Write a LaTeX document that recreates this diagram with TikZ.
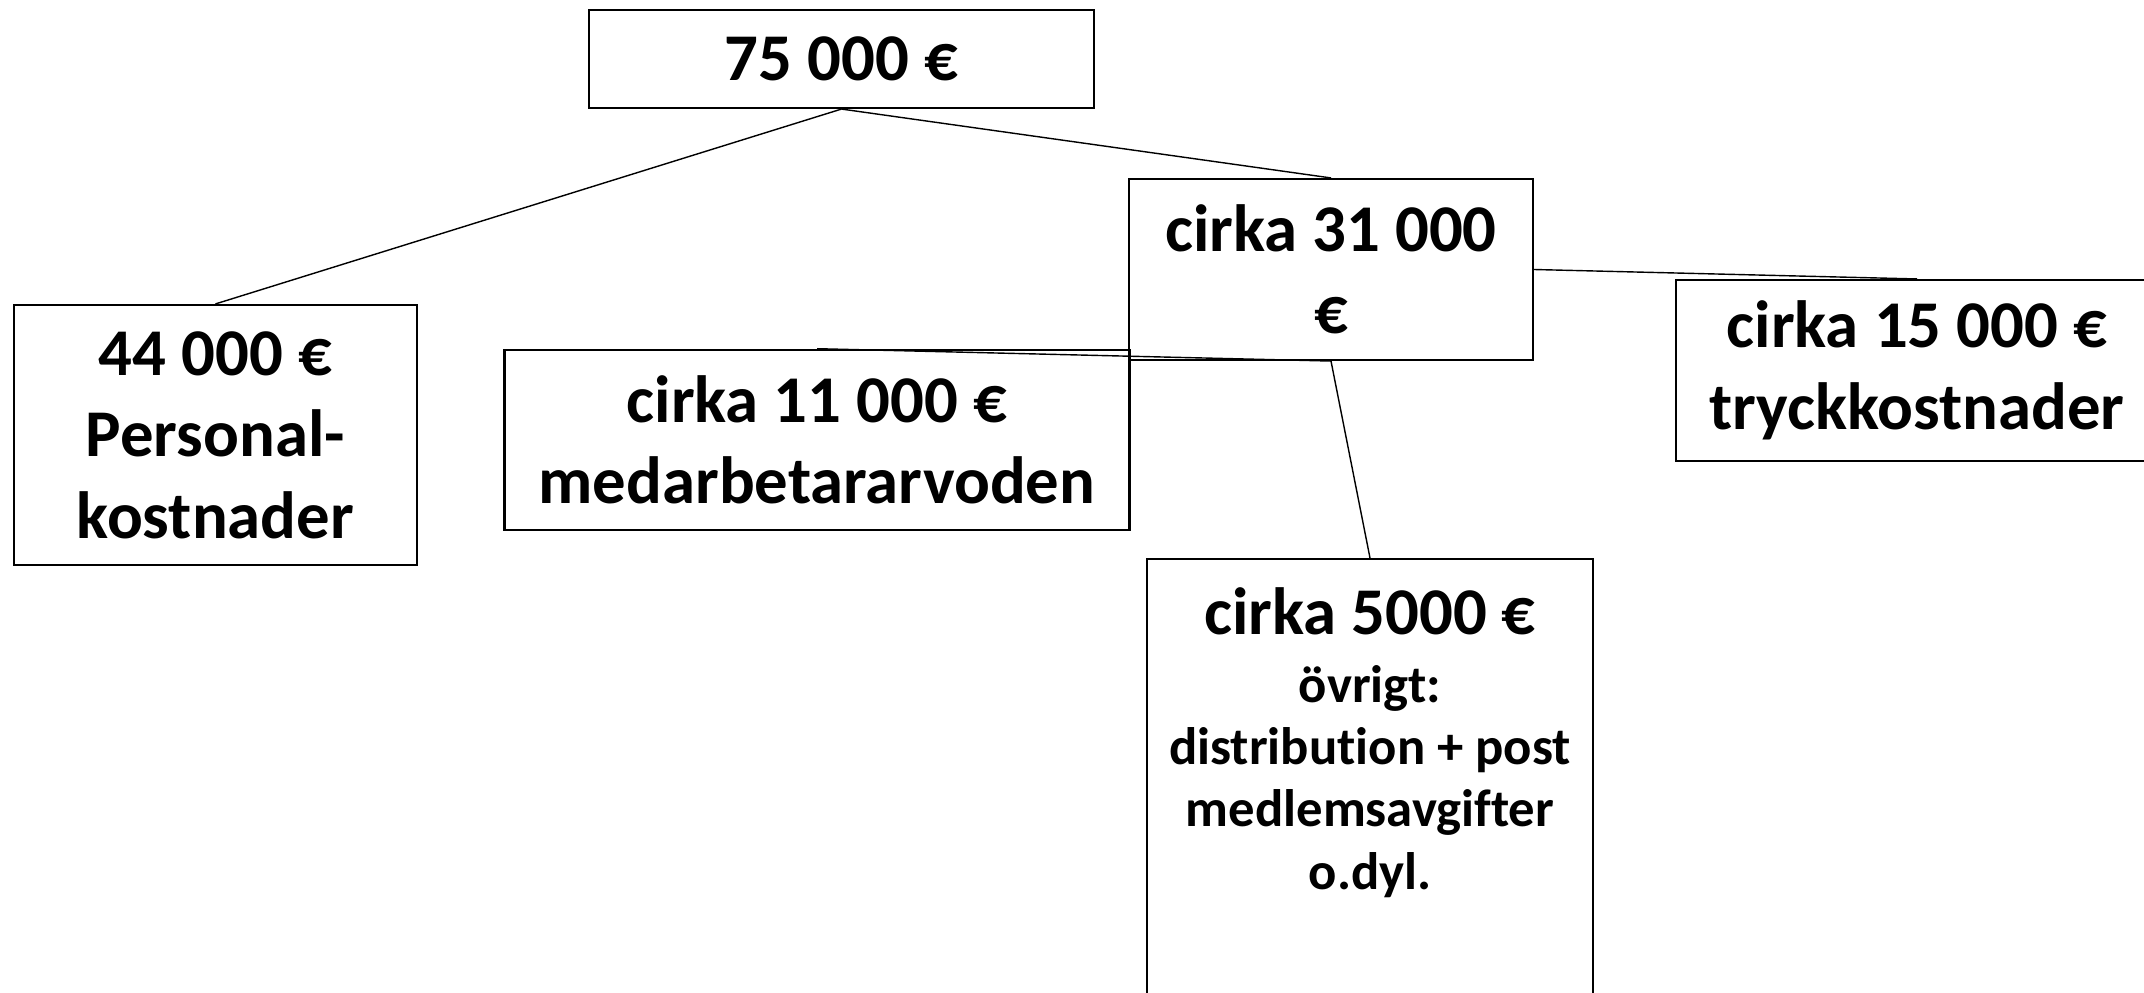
\documentclass[tikz,border=0pt]{standalone}
\usepackage{fontspec}
\setmainfont{Carlito}[Ligatures=CommonOff]
\usepackage{tikz}
\usetikzlibrary{positioning}

\newcommand{\smalltxt}{\fontsize{15}{18.3}\selectfont}

\begin{document}
\begin{tikzpicture}[
            box/.style={draw, rectangle, line width=0.6pt, align=center, font=\fontsize{19}{23.2}\selectfont\bfseries, inner sep=0pt},
            link/.style={line width=0.4pt}]
            \useasboundingbox (0,0) rectangle (21.44,-9.93);

            \node[box, minimum width=5.05cm, minimum height=0.98cm] (total) at (8.415,-0.59) {75 000 €};
            \node[box, minimum width=4.03cm, minimum height=2.60cm] (personal) at (2.154,-4.35) {44 000 €\\Personal-\\kostnader};
            \node[box, minimum width=4.04cm, minimum height=1.81cm] (rest) at (13.31,-2.695) {cirka 31 000\\€};
            \node[box, minimum width=6.25cm, minimum height=1.805cm] (arvoden) at (8.17,-4.40) {cirka 11 000 €\\medarbetararvoden};
            \node[box, minimum width=4.82cm, minimum height=1.81cm] (tryck) at (19.17,-3.705) {cirka 15 000 €\\tryckkostnader};
            \node[box, minimum width=4.46cm, anchor=north, inner ysep=0.29cm, text depth=3.3cm] (ovrigt) at (13.70,-5.58)
                {cirka 5000 €\\[-4pt]\smalltxt övrigt:\\[-5.5pt]\smalltxt distribution + post\\[-5.5pt]\smalltxt medlemsavgifter\\[-5.5pt]\smalltxt o.dyl.};

            \draw[link] (total.south) -- (personal.north);
            \draw[link] (total.south) -- (rest.north);
            \draw[link] (rest.east) -- (tryck.north);
            \draw[link] (rest.south) -- (arvoden.north);
            \draw[link] (rest.south) -- (ovrigt.north);
        \end{tikzpicture}
\end{document}
